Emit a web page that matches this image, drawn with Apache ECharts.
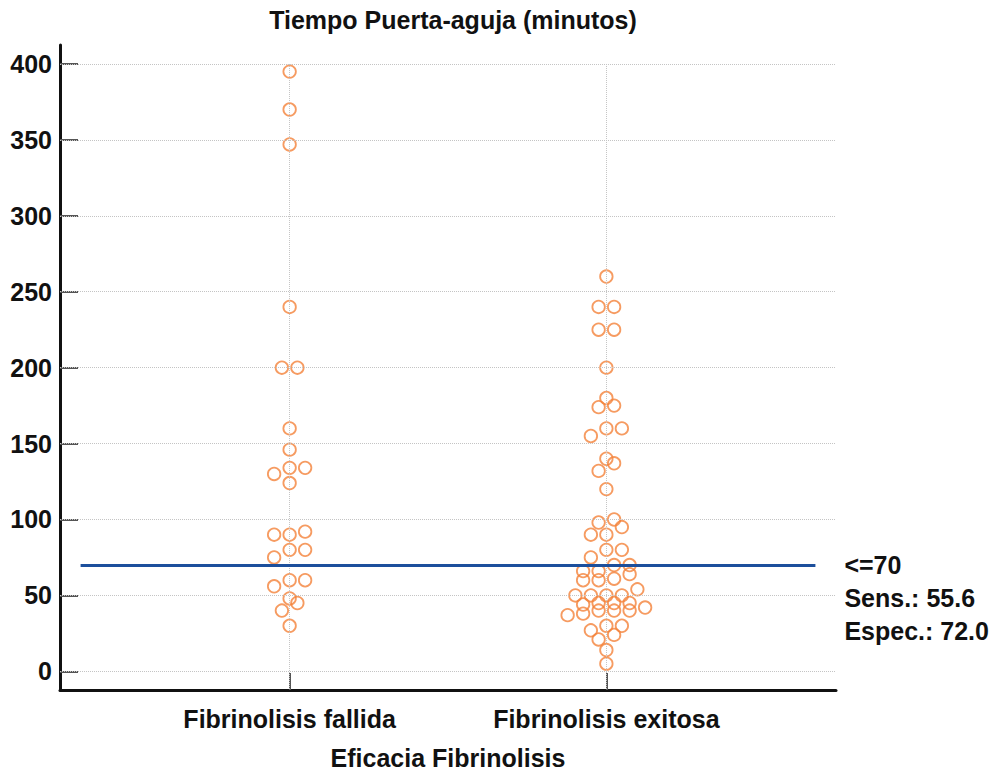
<!DOCTYPE html>
<html>
<head>
<meta charset="utf-8">
<script src="https://cdn.jsdelivr.net/npm/echarts@6/dist/echarts.min.js"></script>
<style>
  html, body { margin: 0; padding: 0; background: #ffffff; }
  #chart { width: 998px; height: 771px; }
</style>
</head>
<body>
<div id="chart"></div>
<script>
// Door-to-needle time (minutes) by fibrinolysis outcome
const categories = ['Fibrinolisis fallida', 'Fibrinolisis exitosa'];
const fallida = [30, 40, 45, 48, 56, 60, 60, 75, 80, 80, 90, 90, 92, 124, 130, 134, 134,
  146, 160, 200, 200, 240, 347, 370, 395];
const exitosa = [5, 14, 21, 24, 27, 30, 30, 37, 38, 40, 40, 40, 42, 44, 45, 45, 45, 50, 50,
  50, 50, 54, 60, 60, 61, 64, 66, 66, 70, 70, 75, 80, 80, 90, 90, 95, 98, 100, 120, 132, 137,
  140, 155, 160, 160, 174, 175, 180, 200, 225, 225, 240, 240, 260];
const yTicks = [0, 50, 100, 150, 200, 250, 300, 350, 400];
const criterion = 70;

const FONT = '"Liberation Sans", Arial, Helvetica, sans-serif';
const FONT_SIZE = 25;
const TEXT = '#111111';
const ORANGE = '#F4823A';

const xMin = 0.275, xMax = 2.725;
const yMin = -12.3, yMax = 412.5;
const gridLeft = 60, gridRight = 162, gridTop = 45, gridBottom = 81;
const gridWidth = 998 - gridLeft - gridRight;

// dot-plot layout: values within 5 minutes share a row and are spread side by side
const markerSpacingPx = 15.5;
const gap = markerSpacingPx / (gridWidth / (xMax - xMin));
function swarm(values, center) {
  const sorted = values.slice().sort((a, b) => a - b);
  const out = [];
  let i = 0;
  while (i < sorted.length) {
    const start = sorted[i];
    let j = i;
    while (j < sorted.length && sorted[j] - start <= 5) j++;
    const n = j - i;
    for (let k = 0; k < n; k++) {
      out.push([center + (k - (n - 1) / 2) * gap, sorted[i + k]]);
    }
    i = j;
  }
  return out;
}

// sensitivity / specificity of the criterion (<= 70 predicts success)
const sens = exitosa.filter(v => v <= criterion).length / exitosa.length * 100;
const spec = fallida.filter(v => v > criterion).length / fallida.length * 100;

const gridLineStyle = { color: '#c4c4c4', width: 1, type: 'dotted' };
const gridLines = yTicks.map(v => [{ coord: [xMin, v] }, { coord: [xMax, v] }])
  .concat([1, 2].map(c => [{ coord: [c, yTicks[yTicks.length - 1]] }, { coord: [c, yMin] }]));

const pointStyle = {
  color: 'rgba(255,255,255,0)',
  borderColor: ORANGE,
  borderWidth: 1.8
};

const textStyle = { fontFamily: FONT, fontSize: FONT_SIZE, fontWeight: 'bold', color: TEXT };

const chart = echarts.init(document.getElementById('chart'), null, { renderer: 'svg' });
chart.setOption({
  animation: false,
  backgroundColor: '#ffffff',
  title: {
    text: 'Tiempo Puerta-aguja (minutos)',
    left: 448,
    top: 2,
    textAlign: 'center',
    textStyle: textStyle
  },
  grid: {
    left: gridLeft, right: gridRight, top: gridTop, bottom: gridBottom,
    containLabel: false,
    outerBoundsMode: 'none'
  },
  xAxis: {
    type: 'value',
    min: xMin,
    max: xMax,
    name: 'Eficacia Fibrinolisis',
    nameLocation: 'middle',
    nameGap: 55,
    nameTextStyle: Object.assign({ lineHeight: 25 }, textStyle),
    axisLine: { show: true, onZero: false, lineStyle: { color: '#111111', width: 3 } },
    axisTick: { show: true, inside: true, length: 17, customValues: [1, 2],
      lineStyle: { color: '#555555', width: 2 } },
    axisLabel: Object.assign({ show: true, customValues: [1, 2], margin: 16,
      formatter: v => categories[Math.round(v) - 1] || '' }, textStyle),
    splitLine: { show: false }
  },
  yAxis: {
    type: 'value',
    min: yMin,
    max: yMax,
    axisLine: { show: true, onZero: false, lineStyle: { color: '#111111', width: 3 } },
    axisTick: { show: true, inside: true, length: 18, customValues: yTicks,
      lineStyle: { color: '#555555', width: 2 } },
    axisLabel: Object.assign({ show: true, customValues: yTicks, margin: 8 }, textStyle),
    splitLine: { show: false }
  },
  series: [
    {
      name: 'grid',
      type: 'scatter',
      data: [],
      silent: true,
      z: 1,
      markLine: {
        silent: true,
        symbol: ['none', 'none'],
        label: { show: false },
        lineStyle: gridLineStyle,
        data: gridLines
      }
    },
    {
      name: categories[0],
      type: 'scatter',
      data: swarm(fallida, 1),
      symbol: 'circle',
      symbolSize: 12.5,
      itemStyle: pointStyle,
      z: 3
    },
    {
      name: categories[1],
      type: 'scatter',
      data: swarm(exitosa, 2),
      symbol: 'circle',
      symbolSize: 12.5,
      itemStyle: pointStyle,
      z: 3
    },
    {
      name: 'criterio',
      type: 'scatter',
      data: [],
      silent: true,
      z: 4,
      markLine: {
        silent: true,
        symbol: ['none', 'none'],
        lineStyle: { color: '#1C4F9C', width: 3, type: 'solid' },
        label: Object.assign({
          show: true,
          position: 'end',
          distance: 29,
          // two empty lines keep the first text line level with the criterion line
          formatter: '\n\n<=' + criterion + '\nSens.: ' + sens.toFixed(1) + '\nEspec.: ' + spec.toFixed(1),
          lineHeight: 33,
          align: 'left',
          verticalAlign: 'middle'
        }, textStyle),
        data: [[{ coord: [0.34, criterion] }, { coord: [2.66, criterion] }]]
      }
    }
  ]
});
</script>
</body>
</html>
